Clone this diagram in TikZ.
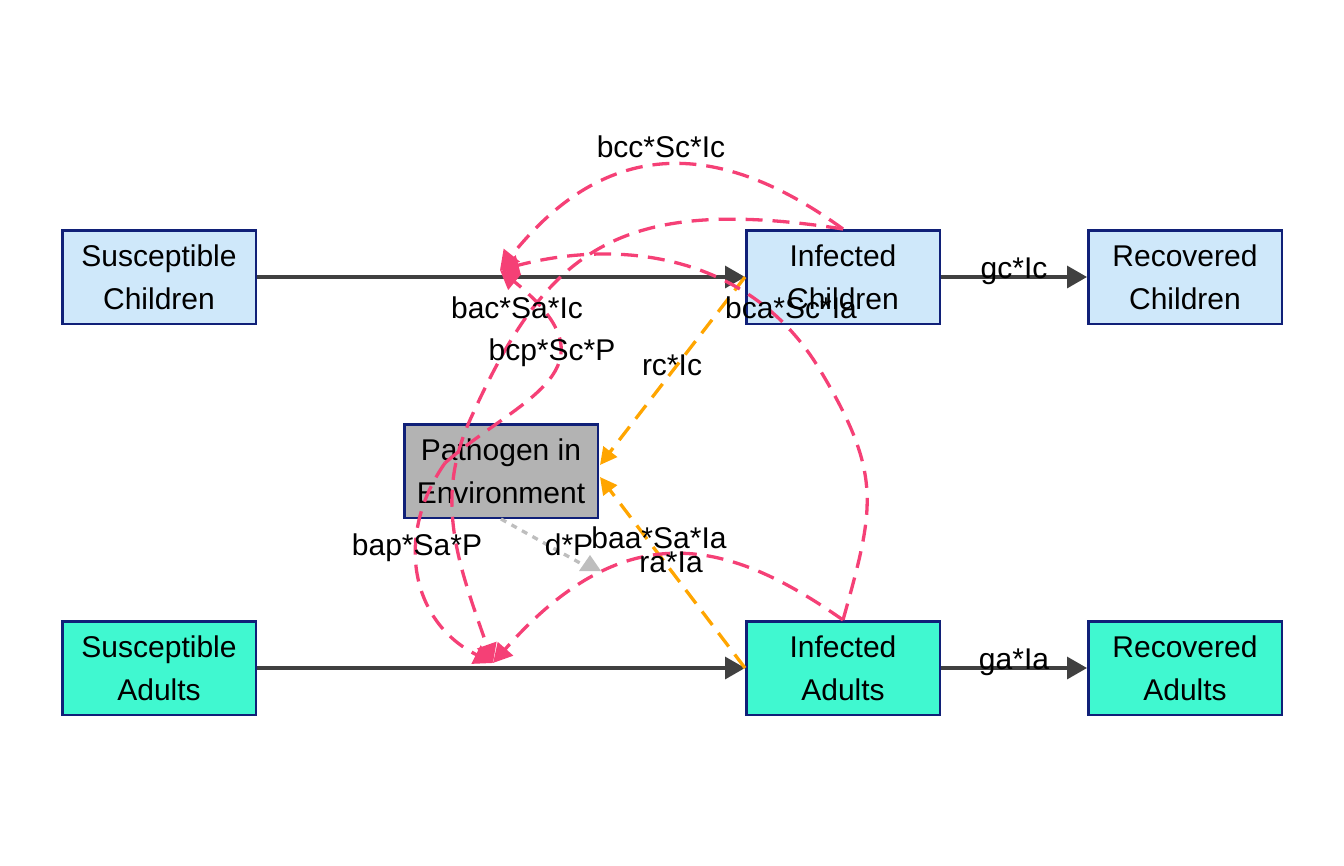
\documentclass[tikz,border=0pt]{standalone}
\usepackage{fontspec}
\setmainfont{Liberation Sans}
\usetikzlibrary{arrows.meta}
\definecolor{navyc}{RGB}{16,32,120}
\definecolor{childc}{RGB}{207,232,250}
\definecolor{adultc}{RGB}{64,248,208}
\definecolor{pathc}{RGB}{179,179,179}
\definecolor{darkc}{RGB}{64,64,64}
\definecolor{pinkc}{RGB}{245,64,118}
\definecolor{orangec}{RGB}{255,165,0}
\definecolor{greyc}{RGB}{190,190,190}
\begin{document}
\begin{tikzpicture}[x=1pt,y=-1pt,
  box/.style={draw=navyc, line width=2.5pt, minimum width=193.5pt, minimum height=93.5pt,
    inner sep=0pt, align=center, font=\fontsize{30pt}{43pt}\selectfont},
  flow/.style={draw=darkc, line width=3.4pt, -{Triangle[length=20pt,width=22pt]}},
  inter/.style={draw=pinkc, line width=3.3pt, dash pattern=on 17pt off 10pt,
    -{Triangle[length=19pt,width=20pt]}},
  rel/.style={draw=orangec, line width=3.3pt, dash pattern=on 17pt off 10pt,
    -{Triangle[length=17pt,width=17pt]}},
  decay/.style={draw=greyc, line width=3.3pt, dash pattern=on 6pt off 6pt},
  lab/.style={font=\fontsize{30pt}{36pt}\selectfont, anchor=base, inner sep=0pt}
]
\useasboundingbox (0,0) rectangle (1344,865);

% compartments
\node[box, fill=childc] (SC) at (159,277) {Susceptible\\Children};
\node[box, fill=childc] (IC) at (843,277) {Infected\\Children};
\node[box, fill=childc] (RC) at (1185,277) {Recovered\\Children};
\node[box, fill=pathc]  (P)  at (501,471) {Pathogen in\\Environment};
\node[box, fill=adultc] (SA) at (159,668) {Susceptible\\Adults};
\node[box, fill=adultc] (IA) at (843,668) {Infected\\Adults};
\node[box, fill=adultc] (RA) at (1185,668) {Recovered\\Adults};

% helper points
\coordinate (t1) at (500,270);
\coordinate (t2) at (493,663);
\coordinate (pp) at (445,463);
\coordinate (pe1) at (600,465);
\coordinate (pe2) at (600,477);
\coordinate (dz) at (580,563);

% main flows
\draw[flow] (SC.east) -- (IC.west);
\draw[flow] (IC.east) -- (RC.west);
\draw[flow] (SA.east) -- (IA.west);
\draw[flow] (IA.east) -- (RA.west);

% shedding
\draw[rel] (IC.west) -- (pe1);
\draw[rel] (IA.west) -- (pe2);

% decay
\draw[decay] (P.south) -- (dz);
\fill[greyc] (590,555) -- (579,571) -- (601,571) -- cycle;

% interactions
\draw[inter] (IC.north) .. controls (730,147) and (614,127) .. (t1);
\draw[inter] (IC.north) .. controls (616,194) and (546,251) .. (470,420)
  .. controls (433.6,500.8) and (458.7,565) .. (t2);
\draw[inter] (IA.north) .. controls (874.6,507) and (883,475) .. (820,370)
  .. controls (751,255) and (622,238) .. (t1);
\draw[inter] (pp) .. controls (519,398) and (623,370) .. (t1);
\draw[inter] (pp) .. controls (394,536) and (411,622) .. (t2);
\draw[inter] (IA.north) .. controls (730.5,541) and (627,511) .. (t2);

% labels
\node[lab] (lgc) at (1014,278) {gc*Ic};
\node[lab] (lga) at (1014,669) {ga*Ia};
\node[lab] (lbcc) at (661,157) {bcc*Sc*Ic};
\node[lab] (lbac) at (517,318) {bac*Sa*Ic};
\node[lab] (lbcp) at (552,360) {bcp*Sc*P};
\node[lab] (lbca) at (791,318) {bca*Sc*Ia};
\node[lab] (lrc) at (672,375) {rc*Ic};
\node[lab] (lbap) at (417,555) {bap*Sa*P};
\node[lab] (ld) at (569,555) {d*P};
\node[lab] (lbaa) at (659,548) {baa*Sa*Ia};
\node[lab] (lra) at (671,572) {ra*Ia};
\end{tikzpicture}
\end{document}
